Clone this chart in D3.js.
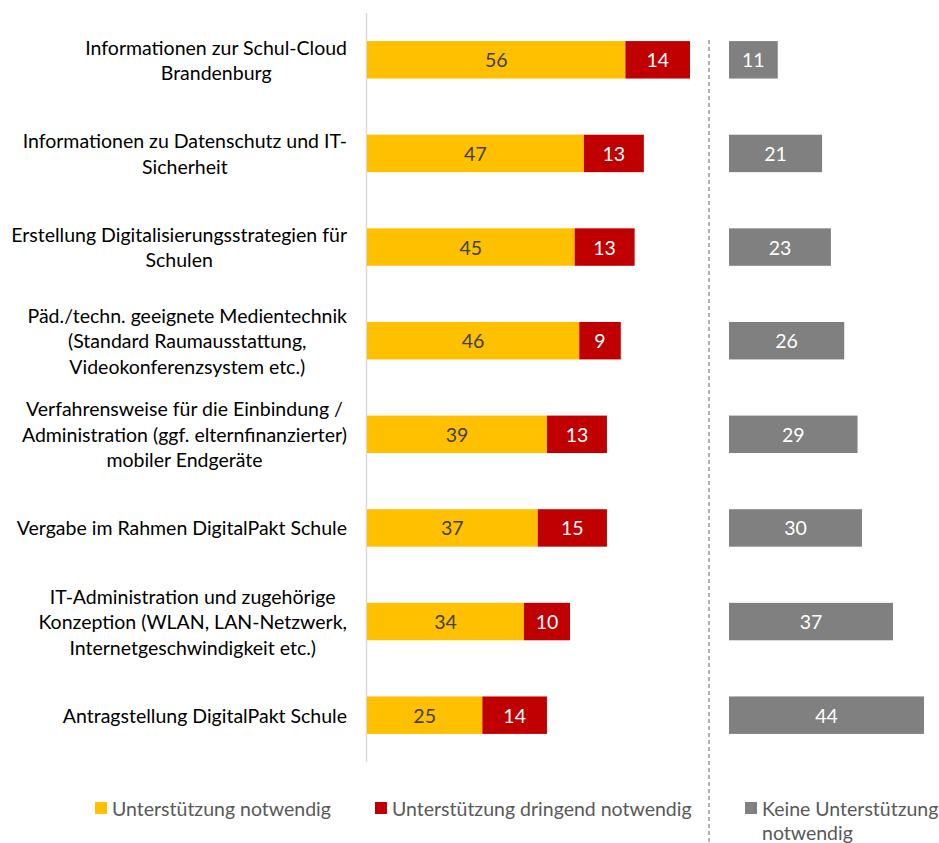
<!DOCTYPE html>
<html>
<head>
<meta charset="utf-8">
<script src="https://cdn.jsdelivr.net/npm/d3@7"></script>
<style>
  body { margin: 0; background: #fff; }
  text { font-family: Lato, "Open Sans", sans-serif; }
</style>
</head>
<body>
<div id="chart-area"></div>
<script>
// categories (wrapped the way the original shows them)
var categories = [
  ["Informationen zur Schul-Cloud", "Brandenburg"],
  ["Informationen zu Datenschutz und IT-", "Sicherheit"],
  ["Erstellung Digitalisierungsstrategien für", "Schulen"],
  ["Päd./techn. geeignete Medientechnik", "(Standard Raumausstattung,", "Videokonferenzsystem etc.)"],
  ["Verfahrensweise für die Einbindung /", "Administration (ggf. elternfinanzierter)", "mobiler Endgeräte"],
  ["Vergabe im Rahmen DigitalPakt Schule"],
  ["IT-Administration und zugehörige", "Konzeption (WLAN, LAN-Netzwerk,", "Internetgeschwindigkeit etc.)"],
  ["Antragstellung DigitalPakt Schule"]
];
var notwendig = [56, 47, 45, 46, 39, 37, 34, 25];
var dringend  = [14, 13, 13, 9, 13, 15, 10, 14];
var keine     = [11, 21, 23, 26, 29, 30, 37, 44];
var seriesNames = ["Unterstützung notwendig", "Unterstützung dringend notwendig", ["Keine Unterstützung", "notwendig"]];

var W = 939, H = 843;
var yellow = "#FFC000", red = "#C00000", grey = "#808080";
var fs = 19.5;

var svg = d3.select("#chart-area").append("svg")
    .attr("width", W)
    .attr("height", H);

var idx = categories.map((d, i) => i);

var y = d3.scaleBand()
    .domain(idx)
    .range([13, 762])
    .paddingInner(0.6)
    .paddingOuter(0.3);

var x = d3.scaleLinear()
    .domain([0, 70])
    .range([367, 690]);

var x2 = d3.scaleLinear()
    .domain([0, 44])
    .range([729, 924]);

// left axis line
svg.append("line")
    .attr("x1", 366.5).attr("x2", 366.5)
    .attr("y1", 13).attr("y2", 762)
    .attr("stroke", "#d9d9d9").attr("stroke-width", 1.5);

// dashed divider
svg.append("line")
    .attr("x1", 709).attr("x2", 709)
    .attr("y1", 40).attr("y2", H)
    .attr("stroke", "#7f7f7f").attr("stroke-width", 1.2)
    .attr("stroke-dasharray", "4,3");

// category labels
var labels = svg.selectAll("g.label")
    .data(categories)
    .enter().append("g")
    .attr("class", "label");

labels.each(function(lines, i) {
    var g = d3.select(this);
    var cy = y(i) + y.bandwidth() / 2;
    var n = lines.length;
    var t = g.selectAll("text").data(lines).enter().append("text")
        .attr("y", (d, j) => cy + (j - (n - 1) / 2) * 25.5)
        .attr("dominant-baseline", "central")
        .attr("text-anchor", "middle")
        .attr("font-size", fs)
        .attr("fill", "#000")
        .text(d => d);
    var maxW = 0;
    t.each(function() { maxW = Math.max(maxW, this.getComputedTextLength()); });
    t.attr("x", 347 - maxW / 2);
});

function drawBars(values, x0fn, scale, color) {
    svg.append("g").selectAll("rect")
        .data(values)
        .enter().append("rect")
        .attr("x", (d, i) => scale(x0fn(i)))
        .attr("y", (d, i) => y(i))
        .attr("width", (d, i) => scale(x0fn(i) + d) - scale(x0fn(i)))
        .attr("height", y.bandwidth())
        .attr("fill", color);
}

function drawValues(values, x0fn, scale, color) {
    svg.append("g").selectAll("text")
        .data(values)
        .enter().append("text")
        .attr("x", (d, i) => (scale(x0fn(i)) + scale(x0fn(i) + d)) / 2)
        .attr("y", (d, i) => y(i) + y.bandwidth() / 2)
        .attr("text-anchor", "middle")
        .attr("dominant-baseline", "central")
        .attr("font-size", fs)
        .attr("fill", color)
        .text(d => d);
}

drawBars(notwendig, () => 0, x, yellow);
drawBars(dringend, i => notwendig[i], x, red);
drawBars(keine, () => 0, x2, grey);

drawValues(notwendig, () => 0, x, "#404040");
drawValues(dringend, i => notwendig[i], x, "#fff");
drawValues(keine, () => 0, x2, "#fff");

// legend
var legendX = [95, 375, 745];
var legendColors = [yellow, red, grey];
var legend = svg.selectAll("g.legend")
    .data(seriesNames)
    .enter().append("g")
    .attr("class", "legend")
    .attr("transform", (d, i) => "translate(" + legendX[i] + ",808)");

legend.append("rect")
    .attr("x", 0).attr("y", -6)
    .attr("width", 12).attr("height", 12)
    .attr("fill", (d, i) => legendColors[i]);

legend.each(function(d) {
    var lines = Array.isArray(d) ? d : [d];
    d3.select(this).selectAll("text").data(lines).enter().append("text")
        .attr("x", 17)
        .attr("y", (l, j) => j * 24)
        .attr("dominant-baseline", "central")
        .attr("font-size", fs)
        .attr("fill", "#595959")
        .text(l => l);
});
</script>
</body>
</html>
